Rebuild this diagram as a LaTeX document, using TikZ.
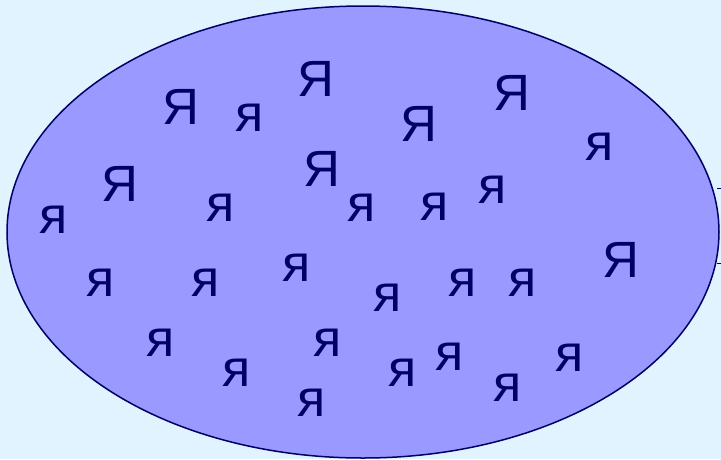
\documentclass[tikz,border=0pt]{standalone}
\usepackage{fontspec}
\setmainfont{Liberation Sans}
\usetikzlibrary{shapes.geometric}
\definecolor{bgblue}{RGB}{224,243,254}
\definecolor{setfill}{RGB}{153,153,255}
\definecolor{navy}{RGB}{0,0,102}

\begin{document}
\begin{tikzpicture}[
  x=1pt, y=-1pt,
  setshape/.style={ellipse, draw=navy, line width=1.5pt, fill=setfill,
                   minimum width=712pt, minimum height=452pt, inner sep=0pt},
  bigya/.style={text=navy, inner sep=0pt, font=\fontsize{51}{60}\selectfont},
  smallya/.style={text=navy, inner sep=0pt, font=\fontsize{52}{60}\selectfont},
  stub/.style={draw=navy, line width=1pt},
]
  % Background
  \fill[bgblue] (0,0) rectangle (721,459);
  \useasboundingbox (0,0) rectangle (721,459);

  % The set
  \node[setshape] (setA) at (363,232) {};

  % Capital letters
  \node[bigya] (big1) at (181,107) {Я};
  \node[bigya] (big2) at (316,79)  {Я};
  \node[bigya] (big3) at (120,184) {Я};
  \node[bigya] (big4) at (322,169) {Я};
  \node[bigya] (big5) at (419,124) {Я};
  \node[bigya] (big6) at (512,93)  {Я};
  \node[bigya] (big7) at (621,260) {Я};

  % Small letters
  \node[smallya] (small1)  at (250,118) {я};
  \node[smallya] (small2)  at (600,147) {я};
  \node[smallya] (small3)  at (221,208) {я};
  \node[smallya] (small4)  at (54,220)  {я};
  \node[smallya] (small5)  at (362,208) {я};
  \node[smallya] (small6)  at (435,207) {я};
  \node[smallya] (small7)  at (493,190) {я};
  \node[smallya] (small8)  at (101,283) {я};
  \node[smallya] (small9)  at (206,283) {я};
  \node[smallya] (small10) at (297,268) {я};
  \node[smallya] (small11) at (388,298) {я};
  \node[smallya] (small12) at (463,283) {я};
  \node[smallya] (small13) at (523,283) {я};
  \node[smallya] (small14) at (161,343) {я};
  \node[smallya] (small15) at (237,373) {я};
  \node[smallya] (small16) at (328,343) {я};
  \node[smallya] (small17) at (312,403) {я};
  \node[smallya] (small18) at (403,373) {я};
  \node[smallya] (small19) at (450,357) {я};
  \node[smallya] (small20) at (508,388) {я};
  \node[smallya] (small21) at (570,358) {я};

  % Stubs at the right edge
  \draw[stub] (717,188) -- (721,188);
  \draw[stub] (717,263) -- (721,263);
\end{tikzpicture}
\end{document}
